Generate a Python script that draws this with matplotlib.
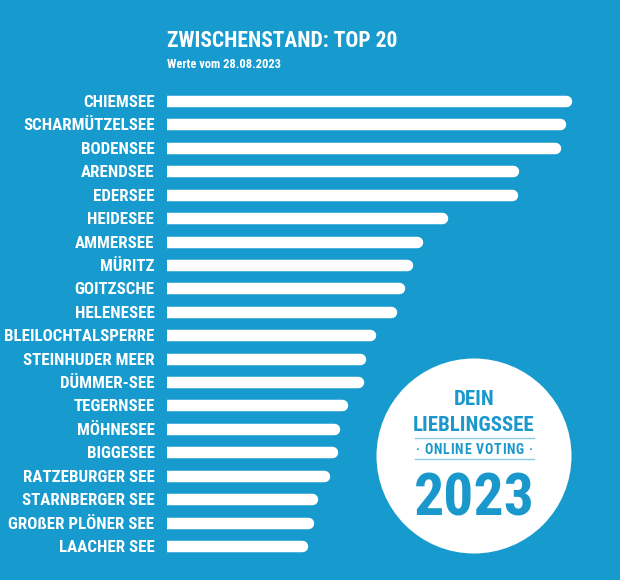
import numpy as np
import matplotlib.pyplot as plt
from matplotlib import font_manager
from matplotlib.patches import Circle

# pick the narrowest bold face that is installed
_fonts = font_manager.fontManager.ttflist
_names = {f.name for f in _fonts}
STRETCH = "normal"
FAMILY = "DejaVu Sans"
for cand in ["Liberation Sans Narrow", "Roboto Condensed", "Open Sans Condensed",
             "Noto Sans Condensed", "DejaVu Sans Condensed"]:
    if cand in _names:
        FAMILY = cand
        break
else:
    if any(f.name == "DejaVu Sans" and str(f.stretch) in ("condensed", "semi-condensed")
           for f in _fonts):
        STRETCH = "condensed"
plt.rcParams['font.family'] = [FAMILY, 'DejaVu Sans']
plt.rcParams['font.stretch'] = STRETCH
plt.rcParams['font.weight'] = 'bold'

BG = "#179bcf"
BLUE = "#1a98cc"
LINE = "#8ccbe6"

lakes = ["CHIEMSEE", "SCHARMÜTZELSEE", "BODENSEE", "ARENDSEE", "EDERSEE",
         "HEIDESEE", "AMMERSEE", "MÜRITZ", "GOITZSCHE", "HELENESEE",
         "BLEILOCHTALSPERRE", "STEINHUDER MEER", "DÜMMER-SEE", "TEGERNSEE",
         "MÖHNESEE", "BIGGESEE", "RATZEBURGER SEE", "STARNBERGER SEE",
         "GROßER PLÖNER SEE", "LAACHER SEE"]
votes = [405, 399, 394, 352, 351, 281, 256, 246, 238, 230,
         209, 199, 197, 181, 173, 171, 163, 151, 147, 141]

W, H, DPI = 620, 580, 100
fig = plt.figure(figsize=(W / DPI, H / DPI), dpi=DPI, facecolor=BG)
renderer = fig.canvas.get_renderer()


def fit(texts, max_w):
    """shrink a group of texts so the widest is at most max_w pixels"""
    widest = max(t.get_window_extent(renderer).width for t in texts)
    if widest > max_w:
        for t in texts:
            t.set_fontsize(t.get_fontsize() * max_w / widest)


# bar area
ax = fig.add_axes([167 / W, 1 - 557.7 / H, (600 - 167) / W, (557.7 - 89.3) / H])
ax.set_facecolor(BG)
ax.set_xlim(0, 433)
ax.set_ylim(len(lakes) - 0.5, -0.5)

y = np.arange(len(lakes))
bar_px = 11.5
ax_w_px = ax.get_position().width * W
r = (bar_px / 2) * (ax.get_xlim()[1] - ax.get_xlim()[0]) / ax_w_px
v = np.array(votes, dtype=float)
# round cap on the right, left cap is clipped by the axes edge -> square start
ax.hlines(y, 0, v - r, colors="white", linewidth=bar_px * 72 / DPI, capstyle="round")

ax.set_yticks(y)
ax.set_yticklabels(lakes, fontsize=12.5, color="white", fontweight="bold")
ax.tick_params(axis="y", length=0, pad=9)
ax.set_xticks([])
for s in ax.spines.values():
    s.set_visible(False)
fit(ax.get_yticklabels(), 150)

# titles
t1 = fig.text(167 / W, 1 - 46.7 / H, "ZWISCHENSTAND: TOP 20", fontsize=15.5,
              color="white", fontweight="bold", va="baseline")
t2 = fig.text(167 / W, 1 - 67.5 / H, "Werte vom 28.08.2023", fontsize=9.5,
              color="white", fontweight="bold", va="baseline")
fit([t1], 232)
fit([t2], 114)

# badge
deco = fig.add_axes([0, 0, 1, 1], facecolor="none")
deco.set_xlim(0, W)
deco.set_ylim(H, 0)
deco.axis("off")
cx, cy, cr = 474, 456, 97.5
deco.add_patch(Circle((cx, cy), cr, color="white", linewidth=0))
b1 = deco.text(cx, 405, "DEIN", fontsize=18, color=BLUE, ha="center", va="baseline")
b2 = deco.text(cx, 431, "LIEBLINGSSEE", fontsize=18, color=BLUE, ha="center", va="baseline")
fit([b1, b2], 121)
deco.plot([415, 534], [438, 438], color=LINE, lw=1)
deco.plot([415, 534], [459, 459], color=LINE, lw=1)

# letter-spaced "· ONLINE VOTING ·"
tag = "· ONLINE VOTING ·"
chars = [deco.text(0, 453.5, c, fontsize=10, color=BLUE, ha="left", va="baseline")
         for c in tag]
widths = [c.get_window_extent(renderer).width if c.get_text() != " " else 3
          for c in chars]
span = 117
track = max(0.0, (span - sum(widths)) / (len(chars) - 1))
total = sum(widths) + track * (len(chars) - 1)
x0 = cx - total / 2
for c, w in zip(chars, widths):
    c.set_x(x0)
    x0 += w + track

b4 = deco.text(cx, 515, "2023", fontsize=44, color=BLUE, ha="center", va="baseline")
fit([b4], 121)

fig.savefig("out.png", dpi=DPI, facecolor=BG)
